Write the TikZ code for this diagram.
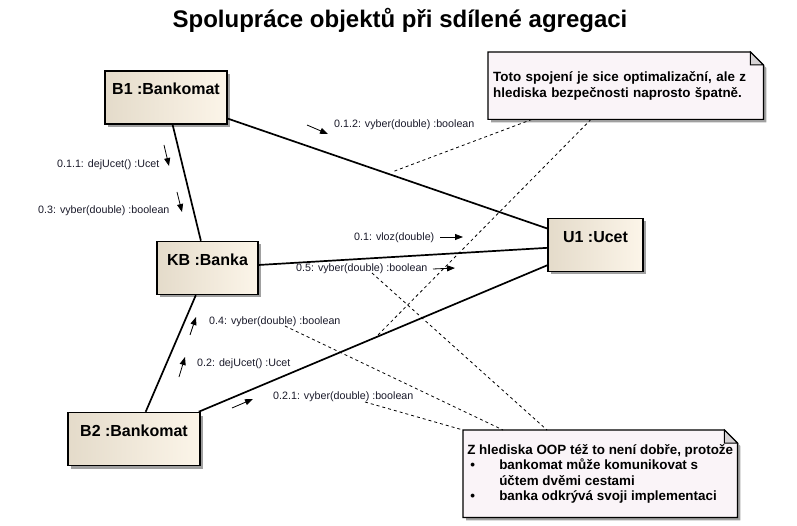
\documentclass[tikz,border=0pt]{standalone}
\usepackage{fontspec}
\setmainfont{Liberation Sans}
\usepackage{xcolor}
\usetikzlibrary{arrows.meta,shadows,backgrounds}

\definecolor{objleft}{HTML}{E4DBCA}
\definecolor{objright}{HTML}{FCF5E9}
\definecolor{notefill}{HTML}{FAF4F8}
\definecolor{foldgray}{HTML}{D6D2D4}
\definecolor{shadowgray}{HTML}{A0A0A0}
\definecolor{msgtext}{HTML}{1A1A2A}

% note outline with folded corner, drawn behind the note text
\newcommand{\drawnote}[1]{%
	\begin{scope}[on background layer]
		\fill[shadowgray] ([shift={(3pt,-3pt)}]#1.north west) -- ([shift={(-10pt,-3pt)}]#1.north east)
			-- ([shift={(3pt,-16pt)}]#1.north east) -- ([shift={(3pt,-3pt)}]#1.south east)
			-- ([shift={(3pt,-3pt)}]#1.south west) -- cycle;
		\filldraw[notebox] (#1.north west) -- ([xshift=-13pt]#1.north east)
			-- ([yshift=-13pt]#1.north east) -- (#1.south east) -- (#1.south west) -- cycle;
		\filldraw[notefold] ([xshift=-13pt]#1.north east) -- ([xshift=-13pt,yshift=-13pt]#1.north east)
			-- ([yshift=-13pt]#1.north east) -- cycle;
	\end{scope}}

\begin{document}
\begin{tikzpicture}[
		x=1pt, y=-1pt,
		object/.style={
			rectangle,
			draw,
			line width=1.5pt,
			left color=objleft,
			right color=objright,
			drop shadow={shadow xshift=3pt, shadow yshift=-3pt, fill=shadowgray, opacity=1},
			inner sep=0pt,
			minimum height=53pt,
			text height=11.5pt,
			text depth=16.5pt,
			font=\bfseries\fontsize{16}{16}\selectfont
		},
		title/.style={anchor=base, inner sep=0pt, font=\bfseries\fontsize{24}{24}\selectfont},
		note/.style={
			anchor=north west,
			align=left,
			inner xsep=5pt,
			inner ysep=0pt,
			font=\bfseries\fontsize{13.4}{15.5}\selectfont
		},
		notebox/.style={fill=notefill, draw, line width=1.2pt},
		notefold/.style={fill=foldgray, draw, line width=1pt},
		link/.style={line width=1.7pt},
		notelink/.style={line width=0.8pt, dash pattern=on 3pt off 3pt},
		msglabel/.style={anchor=base west, inner sep=0pt, text=msgtext, font=\fontsize{10.7}{12}\selectfont},
		msg/.style={-{Triangle[length=8pt,width=6pt]}, line width=0.8pt}
		]
		\begin{scope}[on background layer]
			\fill[white] (0,0) rectangle (797,526);
		\end{scope}
		\useasboundingbox (0,0) rectangle (797,526);
		
		\node[title] (title) at (400,28) {Spolupráce objektů při sdílené agregaci};
		
		\node[object, minimum width=122pt] (b1) at (166,97.5) {B1 :Bankomat};
		\node[object, minimum width=101pt] (kb) at (207.5,268) {KB :Banka};
		\node[object, minimum width=95pt] (u1) at (595.5,245) {U1 :Ucet};
		\node[object, minimum width=132pt] (b2) at (134,439) {B2 :Bankomat};
		
		\draw[link] (b1) -- (kb);
		\draw[link] (b1) -- (u1);
		\draw[link] (kb) -- (u1);
		\draw[link] (kb) -- (b2);
		\draw[link] (b2) -- (u1);
		
		% notes
		\node[note, minimum width=275pt, minimum height=67pt, text width=265pt] (note1) at (488,52)
			{Toto spojení je sice optimalizační, ale z\\hlediska bezpečnosti naprosto špatně.};
		\node[note, inner xsep=2pt, minimum width=274pt, minimum height=87pt] (note2) at (463,430)
			{Z hlediska OOP též to není dobře, protože\\
			\makebox[32pt][l]{\hspace{3pt}\textbullet}bankomat může komunikovat s\\
			\hspace*{32pt}účtem dvěmi cestami\\
			\makebox[32pt][l]{\hspace{3pt}\textbullet}banka odkrývá svoji implementaci};
		\drawnote{note1}
		\drawnote{note2}
		
		\coordinate (n1a) at (392,172);
		\coordinate (n1b) at (377,336);
		\coordinate (n2a) at (372,273);
		\coordinate (n2b) at (285,326);
		\coordinate (n2c) at (365,402);
		\draw[notelink] ([xshift=44pt]note1.south west) -- (n1a);
		\draw[notelink] ([xshift=103pt]note1.south west) -- (n1b);
		\draw[notelink] (n2a) -- ([xshift=84pt]note2.north west);
		\draw[notelink] (n2b) -- ([xshift=40pt]note2.north west);
		\draw[notelink] (n2c) -- (note2.north west);
		
		% messages
		\node[msglabel] (l012) at (334,128) {0.1.2: vyber(double) :boolean};
		\node[msglabel] (l011) at (57,168) {0.1.1: dejUcet() :Ucet};
		\node[msglabel] (l03) at (38,214) {0.3: vyber(double) :boolean};
		\node[msglabel] (l01) at (354,241) {0.1: vloz(double)};
		\node[msglabel] (l05) at (296,272) {0.5: vyber(double) :boolean};
		\node[msglabel] (l04) at (209,324) {0.4: vyber(double) :boolean};
		\node[msglabel] (l02) at (197,366) {0.2: dejUcet() :Ucet};
		\node[msglabel] (l021) at (273,399) {0.2.1: vyber(double) :boolean};
		
		\coordinate (a012s) at (307,125);
		\coordinate (a012e) at (328,134);
		\coordinate (a011s) at (164,145);
		\coordinate (a011e) at (169,166);
		\coordinate (a03s) at (177,192);
		\coordinate (a03e) at (182,212);
		\coordinate (a01s) at (440,237);
		\coordinate (a01e) at (463,237);
		\coordinate (a05s) at (433,269);
		\coordinate (a05e) at (455,268);
		\coordinate (a04s) at (190,335);
		\coordinate (a04e) at (196,317);
		\coordinate (a02s) at (179,377);
		\coordinate (a02e) at (185,357);
		\coordinate (a021s) at (232,408);
		\coordinate (a021e) at (253,399);
		\draw[msg] (a012s) -- (a012e);
		\draw[msg] (a011s) -- (a011e);
		\draw[msg] (a03s) -- (a03e);
		\draw[msg] (a01s) -- (a01e);
		\draw[msg] (a05s) -- (a05e);
		\draw[msg] (a04s) -- (a04e);
		\draw[msg] (a02s) -- (a02e);
		\draw[msg] (a021s) -- (a021e);
	\end{tikzpicture}
\end{document}
